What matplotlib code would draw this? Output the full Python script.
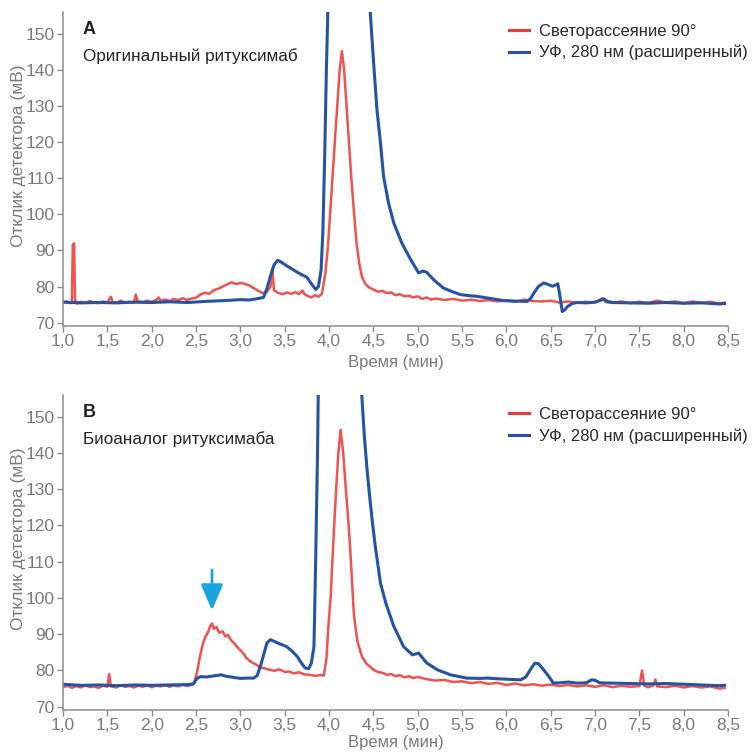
import matplotlib
matplotlib.use("Agg")
import matplotlib.pyplot as plt
from matplotlib.lines import Line2D
from matplotlib import font_manager

# Хроматограммы: светорассеяние 90° (красный) и УФ 280 нм (синий)

# Панель A - оригинальный ритуксимаб
a_red_t = [1.00, 1.04, 1.08, 1.10, 1.11, 1.125, 1.135, 1.16, 1.20, 1.25, 1.30, 1.35, 1.40, 1.45,
           1.50, 1.54, 1.56, 1.60, 1.65, 1.70, 1.75, 1.80, 1.82, 1.84, 1.90, 1.95, 2.00, 2.05,
           2.08, 2.10, 2.15, 2.20, 2.25, 2.30, 2.35, 2.40, 2.45, 2.50, 2.55, 2.60, 2.65, 2.70,
           2.75, 2.80, 2.85, 2.90, 2.95, 3.00, 3.05, 3.10, 3.15, 3.20, 3.25, 3.30, 3.34, 3.36,
           3.38, 3.42, 3.48, 3.52, 3.58, 3.62, 3.66, 3.70, 3.72, 3.76, 3.80, 3.84, 3.88, 3.92,
           3.96, 3.99, 4.02, 4.04, 4.07, 4.09, 4.12, 4.145, 4.17, 4.20, 4.225, 4.25, 4.28, 4.31,
           4.34, 4.37, 4.41, 4.45, 4.50, 4.55, 4.60, 4.65, 4.70, 4.75, 4.80, 4.85, 4.90, 4.95,
           5.00, 5.05, 5.10, 5.15, 5.20, 5.30, 5.40, 5.50, 5.60, 5.70, 5.80, 5.90, 6.00, 6.10,
           6.20, 6.30, 6.40, 6.50, 6.60, 6.70, 6.80, 6.90, 7.00, 7.08, 7.12, 7.20, 7.30, 7.40,
           7.50, 7.60, 7.70, 7.80, 7.90, 8.00, 8.10, 8.20, 8.30, 8.40, 8.46]
a_red_v = [75.6, 75.9, 75.4, 75.8, 91.5, 92.0, 76.2, 75.3, 75.8, 75.5, 76.0, 75.6, 75.4, 75.9,
           75.6, 77.2, 75.7, 75.5, 76.1, 75.6, 75.8, 75.5, 77.8, 75.9, 75.7, 76.1, 75.8, 76.3,
           77.0, 76.0, 76.4, 76.0, 76.6, 76.2, 76.8, 76.3, 76.7, 76.9, 77.8, 78.3, 78.0, 79.0,
           79.4, 80.0, 80.6, 81.2, 80.7, 81.0, 80.8, 80.3, 79.6, 78.9, 78.2, 78.6, 80.0, 84.8,
           79.0, 78.3, 77.9, 78.4, 78.0, 78.5, 77.9, 78.9, 78.0, 77.4, 77.0, 77.6, 77.2, 78.0,
           84.0, 92.0, 103.0, 110.5, 122.0, 129.0, 140.0, 145.2, 140.0, 129.0, 120.0, 110.5, 101.0, 92.0,
           86.5, 82.8, 80.7, 79.8, 79.2, 78.6, 78.8, 78.2, 78.4, 77.6, 77.9, 77.3, 77.5, 77.0,
           77.3, 76.6, 77.0, 76.4, 76.7, 76.3, 76.6, 76.1, 76.4, 76.0, 76.3, 75.9, 76.2, 75.8,
           76.4, 76.0, 75.9, 76.1, 75.6, 75.9, 75.5, 75.8, 75.6, 76.8, 75.7, 75.5, 75.9, 75.4,
           75.8, 75.5, 76.1, 75.6, 75.9, 75.4, 75.9, 75.5, 75.8, 75.3, 75.6]

a_blue_t = [1.00, 1.20, 1.40, 1.60, 1.80, 2.00, 2.20, 2.40, 2.60, 2.80, 3.00, 3.10, 3.20, 3.26,
            3.30, 3.34, 3.38, 3.42, 3.46, 3.52, 3.58, 3.64, 3.70, 3.75, 3.80, 3.85, 3.88, 3.91,
            3.93, 3.95, 3.97, 3.99, 4.20, 4.46, 4.465, 4.50, 4.54, 4.58, 4.615, 4.67, 4.73, 4.82,
            4.92, 5.01, 5.06, 5.10, 5.18, 5.29, 5.40, 5.48, 5.58, 5.67, 5.80, 5.90, 5.97, 6.10,
            6.23, 6.27, 6.31, 6.36, 6.42, 6.47, 6.52, 6.56, 6.58, 6.60, 6.63, 6.66, 6.69, 6.74,
            6.80, 6.90, 7.00, 7.06, 7.10, 7.14, 7.20, 7.40, 7.60, 7.80, 8.00, 8.20, 8.40, 8.46]
a_blue_v = [75.7, 75.5, 75.6, 75.5, 75.7, 75.6, 75.8, 75.6, 75.9, 76.1, 76.4, 76.3, 76.7, 77.0,
            79.5, 83.0, 86.0, 87.3, 86.8, 85.8, 84.9, 84.0, 83.2, 82.6, 80.8, 79.2, 80.0, 84.5,
            95.0, 115.0, 140.0, 160.0, 300.0, 160.0, 155.8, 142.9, 129.0, 119.8, 110.5, 103.2, 97.6, 92.1,
            87.5, 83.8, 84.3, 84.0, 81.9, 79.6, 78.5, 77.8, 77.5, 77.3, 76.8, 76.4, 76.1, 76.0,
            75.9, 76.6, 78.2, 80.0, 81.0, 80.6, 80.1, 80.5, 80.8, 78.0, 73.1, 73.6, 74.5, 75.3,
            75.6, 75.5, 75.7, 76.2, 76.6, 75.9, 75.6, 75.5, 75.4, 75.6, 75.4, 75.5, 75.2, 75.3]

# Панель B - биоаналог ритуксимаба
b_red_t = [1.00, 1.05, 1.10, 1.15, 1.20, 1.25, 1.30, 1.35, 1.40, 1.45, 1.50, 1.52, 1.54, 1.60,
           1.65, 1.70, 1.75, 1.80, 1.85, 1.90, 1.95, 2.00, 2.05, 2.10, 2.15, 2.20, 2.25, 2.30,
           2.35, 2.40, 2.45, 2.48, 2.51, 2.55, 2.58, 2.61, 2.64, 2.66, 2.68, 2.70, 2.73, 2.76,
           2.80, 2.83, 2.86, 2.90, 2.93, 2.96, 3.00, 3.03, 3.07, 3.11, 3.15, 3.18, 3.22, 3.27,
           3.33, 3.38, 3.44, 3.50, 3.55, 3.60, 3.66, 3.72, 3.78, 3.84, 3.90, 3.94, 3.97, 3.99,
           4.02, 4.04, 4.06, 4.08, 4.105, 4.13, 4.16, 4.19, 4.215, 4.24, 4.26, 4.28, 4.32, 4.37,
           4.42, 4.46, 4.50, 4.55, 4.61, 4.65, 4.70, 4.75, 4.80, 4.85, 4.90, 4.95, 5.00, 5.10,
           5.20, 5.30, 5.40, 5.50, 5.60, 5.70, 5.80, 5.90, 6.00, 6.10, 6.20, 6.30, 6.40, 6.50,
           6.60, 6.70, 6.80, 6.90, 7.00, 7.10, 7.20, 7.30, 7.40, 7.50, 7.53, 7.555, 7.60, 7.66,
           7.68, 7.70, 7.80, 7.90, 8.00, 8.10, 8.20, 8.30, 8.40, 8.46]
b_red_v = [75.4, 75.8, 75.2, 75.7, 75.3, 75.9, 75.4, 75.6, 75.2, 75.8, 75.5, 79.0, 75.6, 75.3,
           75.9, 75.5, 75.7, 75.3, 75.8, 75.5, 75.9, 75.4, 75.8, 75.6, 76.0, 75.5, 75.9, 75.6,
           76.1, 75.7, 76.0, 76.5, 79.4, 84.5, 87.6, 89.5, 90.8, 92.3, 93.0, 91.5, 92.0, 90.4,
           90.8, 89.4, 89.8, 88.2, 87.5, 86.6, 85.6, 84.8, 83.4, 82.5, 82.0, 81.6, 80.9, 80.6,
           80.2, 79.9, 80.3, 79.6, 79.7, 79.2, 79.5, 78.9, 78.8, 78.5, 78.7, 78.6, 83.0, 91.2,
           101.0, 111.5, 121.0, 129.9, 140.0, 146.4, 140.0, 129.9, 122.0, 113.0, 104.0, 95.5, 88.0, 83.9,
           81.9, 81.1, 80.2, 79.6, 79.3, 78.8, 79.0, 78.4, 78.7, 78.1, 78.4, 77.9, 78.2, 77.6,
           77.2, 77.4, 76.8, 77.0, 76.5, 76.8, 76.3, 76.6, 76.0, 76.4, 75.9, 76.2, 75.8, 76.1,
           75.7, 76.0, 75.6, 75.9, 75.5, 75.9, 75.4, 75.8, 75.5, 75.7, 80.0, 75.8, 75.4, 75.9,
           77.5, 75.6, 75.4, 75.8, 75.3, 75.7, 75.3, 75.6, 75.0, 75.2]

b_blue_t = [1.00, 1.20, 1.40, 1.60, 1.80, 2.00, 2.20, 2.40, 2.47, 2.51, 2.55, 2.62, 2.70, 2.78,
            2.84, 2.92, 3.00, 3.08, 3.15, 3.19, 3.23, 3.27, 3.30, 3.34, 3.40, 3.46, 3.52, 3.58,
            3.64, 3.69, 3.73, 3.77, 3.80, 3.83, 3.85, 3.87, 3.88, 4.10, 4.36, 4.37, 4.40, 4.43,
            4.46, 4.49, 4.52, 4.58, 4.64, 4.73, 4.84, 4.94, 5.01, 5.10, 5.22, 5.37, 5.55, 5.70,
            5.78, 5.90, 6.00, 6.16, 6.22, 6.27, 6.32, 6.36, 6.42, 6.48, 6.53, 6.60, 6.70, 6.80,
            6.90, 6.96, 7.00, 7.05, 7.20, 7.40, 7.60, 7.80, 8.00, 8.20, 8.40, 8.46]
b_blue_v = [76.2, 75.9, 76.0, 75.8, 76.0, 75.9, 76.0, 76.1, 76.3, 77.8, 78.3, 78.2, 78.5, 78.8,
            78.4, 78.1, 77.8, 77.9, 77.9, 78.6, 81.5, 85.0, 87.6, 88.5, 87.8, 87.2, 86.6, 85.4,
            83.9, 82.0, 80.7, 80.5, 82.0, 86.6, 111.5, 140.0, 160.0, 300.0, 160.0, 155.6, 144.0, 135.0,
            127.5, 120.7, 114.5, 104.1, 98.6, 92.2, 86.6, 84.3, 84.8, 82.1, 80.2, 78.8, 77.9, 77.8,
            77.9, 77.7, 77.6, 77.4, 78.2, 80.2, 82.0, 81.9, 80.2, 78.3, 76.5, 76.6, 76.8, 76.5,
            76.6, 77.4, 77.3, 76.6, 76.5, 76.4, 76.3, 76.4, 76.2, 76.0, 75.8, 75.9]

panel_letters = ["A", "B"]
panel_titles = ["Оригинальный ритуксимаб", "Биоаналог ритуксимаба"]
legend_labels = ["Светорассеяние 90°", "УФ, 280 нм (расширенный)"]
x_ticks = [1.0, 1.5, 2.0, 2.5, 3.0, 3.5, 4.0, 4.5, 5.0, 5.5, 6.0, 6.5, 7.0, 7.5, 8.0, 8.5]
y_ticks = [70, 80, 90, 100, 110, 120, 130, 140, 150]
arrow_x = 2.68
arrow_top = 108.5
arrow_tip = 95.8

RED = "#ee3a37"
BLUE = "#2553a3"
GRAY = "#7a7a7a"

names = {f.name for f in font_manager.fontManager.ttflist}
narrow = "Liberation Sans Narrow" if "Liberation Sans Narrow" in names else "Liberation Sans"
plt.rcParams['font.family'] = ['Liberation Sans', 'DejaVu Sans']

fig = plt.figure(figsize=(7.54, 7.52), dpi=100)
axA = fig.add_axes([0.0836, 0.5665, 0.882, 0.4175])
axB = fig.add_axes([0.0836, 0.0559, 0.882, 0.4188])

panels = [(axA, a_red_t, a_red_v, a_blue_t, a_blue_v),
          (axB, b_red_t, b_red_v, b_blue_t, b_blue_v)]

for i, (ax, rt, rv, bt, bv) in enumerate(panels):
    ax.plot(rt, rv, color=RED, lw=1.8, alpha=0.88, solid_joinstyle='round')
    ax.plot(bt, bv, color=BLUE, lw=2.2, solid_joinstyle='round')
    ax.set_xlim(1.0, 8.5)
    ax.set_ylim(69.1, 156)
    ax.set_xticks(x_ticks)
    ax.set_xticklabels([f"{t:.1f}".replace(".", ",") for t in x_ticks])
    ax.set_yticks(y_ticks)
    for lab in ax.get_xticklabels() + ax.get_yticklabels():
        lab.set_family([narrow, 'DejaVu Sans'])
        lab.set_fontsize(12.5)
        lab.set_color(GRAY)
    ax.tick_params(direction='out', length=4, width=1, color="#8c8c8c", pad=2)
    for s in ['top', 'right']:
        ax.spines[s].set_visible(False)
    for s in ['left', 'bottom']:
        ax.spines[s].set_color("#8c8c8c")
        ax.spines[s].set_linewidth(1.1)
    ax.set_xlabel("Время (мин)", fontsize=12, color=GRAY, labelpad=4 if i == 0 else 1)
    ax.set_ylabel("Отклик детектора (мВ)", fontsize=12.5, color=GRAY)
    ax.yaxis.set_label_coords(-0.056, 0.543)
    ax.text(0.03, 0.944, panel_letters[i], transform=ax.transAxes, fontsize=13,
            fontweight='bold', color="#222222", va='center', ha='left')
    ax.text(0.03, 0.86, panel_titles[i], transform=ax.transAxes, fontsize=12.3,
            color="#222222", va='center', ha='left')
    handles = [Line2D([], [], color=RED, lw=2.2), Line2D([], [], color=BLUE, lw=2.2)]
    leg = ax.legend(handles, legend_labels, loc='upper right', bbox_to_anchor=(1.035, 0.972),
                    frameon=False, fontsize=12, handlelength=1.2, handletextpad=0.6,
                    labelspacing=0.35, borderaxespad=0, borderpad=0.2)
    for t in leg.get_texts():
        t.set_color("#2a2a2a")

axB.annotate("", xy=(arrow_x, arrow_tip), xytext=(arrow_x, arrow_top),
             arrowprops=dict(arrowstyle="-|>,head_length=1.6,head_width=0.68",
                             color="#1ba3e2", lw=2))

fig.savefig("out.png", dpi=100)
